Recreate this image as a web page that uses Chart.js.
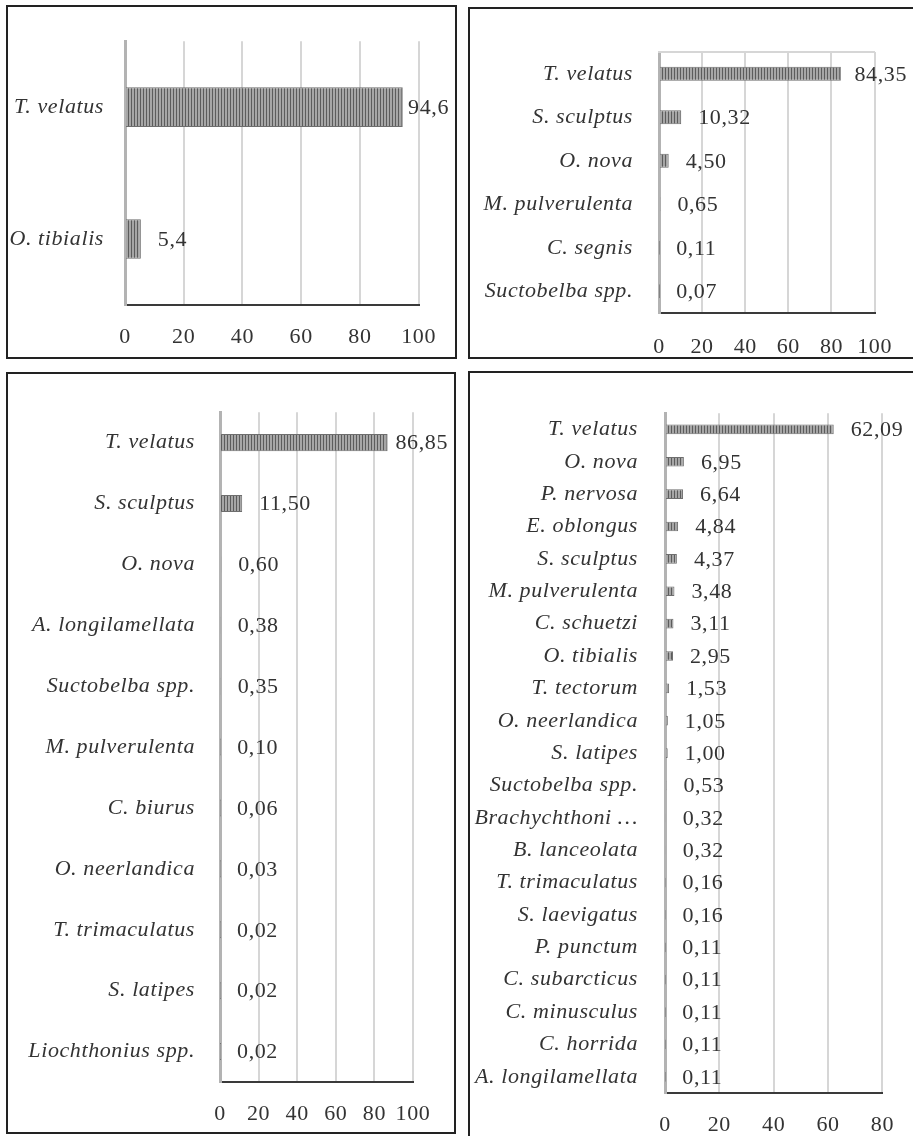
<!DOCTYPE html>
<html>
<head>
<meta charset="utf-8">
<script src="https://cdn.jsdelivr.net/npm/chart.js@4.4.0/dist/chart.umd.min.js"></script>
<style>
  html, body { margin: 0; padding: 0; background: #fff; overflow: hidden; }
  body { width: 913px; height: 1136px; position: relative; }
  .panel { position: absolute; box-sizing: border-box; border: 2px solid #222; background: #fff; }
  .panel canvas { display: block; }
</style>
</head>
<body>
<div class="panel" style="left:6px;top:5px;width:451px;height:354px"><canvas id="c1" width="447" height="350"></canvas></div>
<div class="panel" style="left:468px;top:7px;width:447px;height:352px"><canvas id="c2" width="443" height="348"></canvas></div>
<div class="panel" style="left:6px;top:372px;width:450px;height:762px"><canvas id="c3" width="446" height="758"></canvas></div>
<div class="panel" style="left:468px;top:371px;width:447px;height:767px"><canvas id="c4" width="443" height="763"></canvas></div>
<script>
// panel 1
const p1Labels = ['T. velatus', 'O. tibialis'];
const p1Values = [94.6, 5.4];

// panel 2
const p2Labels = ['T. velatus', 'S. sculptus', 'O. nova', 'M. pulverulenta', 'C. segnis', 'Suctobelba spp.'];
const p2Values = [84.35, 10.32, 4.50, 0.65, 0.11, 0.07];

// panel 3
const p3Labels = ['T. velatus', 'S. sculptus', 'O. nova', 'A. longilamellata', 'Suctobelba spp.',
  'M. pulverulenta', 'C. biurus', 'O. neerlandica', 'T. trimaculatus', 'S. latipes', 'Liochthonius spp.'];
const p3Values = [86.85, 11.50, 0.60, 0.38, 0.35, 0.10, 0.06, 0.03, 0.02, 0.02, 0.02];

// panel 4
const p4Labels = ['T. velatus', 'O. nova', 'P. nervosa', 'E. oblongus', 'S. sculptus', 'M. pulverulenta',
  'C. schuetzi', 'O. tibialis', 'T. tectorum', 'O. neerlandica', 'S. latipes', 'Suctobelba spp.',
  'Brachychthoni …', 'B. lanceolata', 'T. trimaculatus', 'S. laevigatus', 'P. punctum',
  'C. subarcticus', 'C. minusculus', 'C. horrida', 'A. longilamellata'];
const p4Values = [62.09, 6.95, 6.64, 4.84, 4.37, 3.48, 3.11, 2.95, 1.53, 1.05, 1.00, 0.53,
  0.32, 0.32, 0.16, 0.16, 0.11, 0.11, 0.11, 0.11, 0.11];

const FONT = '"Liberation Serif", "DejaVu Serif", serif';
const SIZE = 22;
const TEXT = '#333333';

// vertical hatching like the original bars
const stripes = () => {
  const c = document.createElement('canvas');
  c.width = 3;
  c.height = 4;
  const g = c.getContext('2d');
  g.fillStyle = '#a6a6a6';
  g.fillRect(0, 0, 3, 4);
  g.fillStyle = '#5c5c5c';
  g.fillRect(0, 0, 1, 4);
  return g.createPattern(c, 'repeat');
};

// text in the picture is a bit wide, so add some tracking
const spacing = {
  id: 'spacing',
  beforeUpdate(chart) { chart.ctx.letterSpacing = '0.6px'; },
  beforeDraw(chart) { chart.ctx.letterSpacing = '0.6px'; },
};

// values written right of each bar, decimal comma
const valueLabels = {
  id: 'valueLabels',
  afterDatasetsDraw(chart, args, opts) {
    const { ctx } = chart;
    const meta = chart.getDatasetMeta(0);
    const values = chart.data.datasets[0].data;
    ctx.save();
    ctx.font = `${SIZE}px ${FONT}`;
    ctx.fillStyle = TEXT;
    ctx.textBaseline = 'middle';
    ctx.textAlign = 'left';
    meta.data.forEach((bar, i) => {
      const txt = values[i].toFixed(opts.decimals).replace('.', ',');
      const w = ctx.measureText(txt).width;
      const x = Math.min(bar.x + 17, chart.width - w - 6);
      ctx.fillText(txt, x, bar.y + 1);
    });
    ctx.restore();
  },
};

const makeChart = (id, labels, values, o) => {
  const scales = {
    x: {
      type: 'linear',
      min: 0,
      max: o.max,
      ticks: {
        stepSize: 20,
        autoSkip: false,
        maxRotation: 0,
        minRotation: 0,
        padding: o.tickPad,
        color: TEXT,
        font: { family: FONT, size: SIZE },
      },
      grid: { color: '#d6d6d6', lineWidth: 2, drawTicks: false },
      border: { color: '#3a3a3a', width: 2 },
      afterFit: (s) => { s.height = o.xHeight; },
    },
    y: {
      ticks: {
        autoSkip: false,
        padding: o.labelPad,
        color: TEXT,
        font: { family: FONT, size: SIZE, style: 'italic' },
      },
      grid: { display: false, drawTicks: false },
      border: { color: '#b3b3b3', width: 3 },
      afterFit: (s) => { s.width = o.yWidth; },
    },
  };
  if (o.box) {
    // light frame on top of the plot area
    scales.x2 = {
      type: 'linear',
      position: 'top',
      min: 0,
      max: o.max,
      ticks: { display: false },
      grid: { display: false, drawTicks: false },
      border: { color: '#d6d6d6', width: 2 },
      afterFit: (s) => { s.height = 0; },
    };
  }
  return new Chart(document.getElementById(id), {
    type: 'bar',
    data: {
      labels,
      datasets: [{
        data: values,
        backgroundColor: stripes(),
        borderColor: '#6e6e6e',
        borderWidth: 1,
        barPercentage: o.bar,
        categoryPercentage: 1,
      }],
    },
    options: {
      indexAxis: 'y',
      responsive: false,
      animation: false,
      events: [],
      layout: { padding: o.pad },
      scales,
      plugins: {
        legend: { display: false },
        tooltip: { enabled: false },
        valueLabels: { decimals: o.decimals },
      },
    },
    plugins: [spacing, valueLabels],
  });
};

makeChart('c1', p1Labels, p1Values, {
  max: 100, decimals: 1, bar: 0.3, yWidth: 117, labelPad: 21,
  xHeight: 52, tickPad: 19, pad: { top: 28, right: 34, bottom: 0, left: 0 },
});
makeChart('c2', p2Labels, p2Values, {
  max: 100, decimals: 2, bar: 0.32, yWidth: 189, labelPad: 26, box: true,
  xHeight: 44, tickPad: 21, pad: { top: 43, right: 32, bottom: 0, left: 0 },
});
makeChart('c3', p3Labels, p3Values, {
  max: 100, decimals: 2, bar: 0.28, yWidth: 212, labelPad: 25,
  xHeight: 50, tickPad: 19, pad: { top: 38, right: 41, bottom: 0, left: 0 },
});
makeChart('c4', p4Labels, p4Values, {
  max: 80, decimals: 2, bar: 0.3, yWidth: 195, labelPad: 27,
  xHeight: 43, tickPad: 19, pad: { top: 28, right: 29, bottom: 0, left: 0 },
});
</script>
</body>
</html>
